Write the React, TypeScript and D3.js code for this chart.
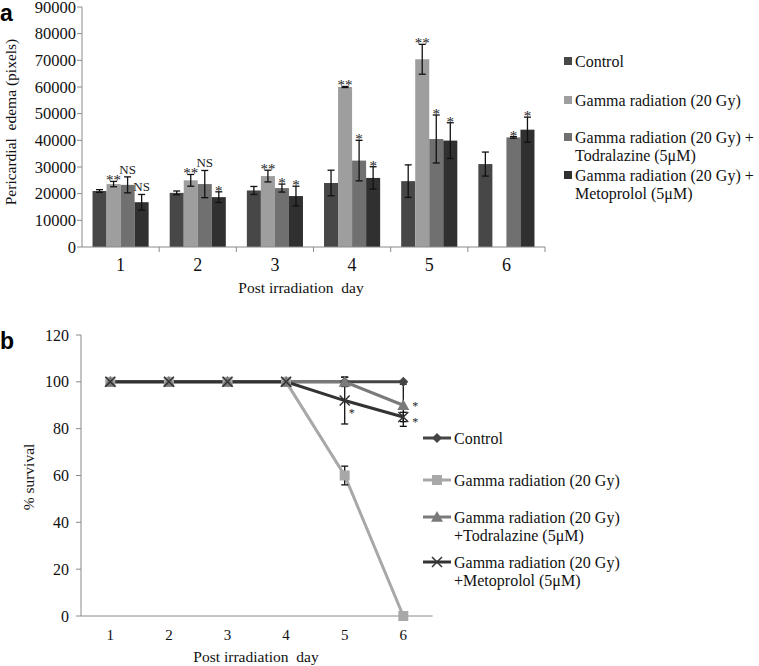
import React from "react";
import * as d3 from "d3";

const days = ["1", "2", "3", "4", "5", "6"];
const seriesA = ["Control", "Gamma", "Todralazine", "Metoprolol"];
const colorsA = ["#474747", "#9e9e9e", "#707070", "#303030"];

const controlA = [21000, 20300, 21200, 24000, 24700, 31100];
const controlAErr = [500, 700, 1500, 4800, 6100, 4500];
const gammaA = [23600, 25000, 26600, 60000, 70400, null];
const gammaAErr = [1000, 2200, 2200, 200, 5600, 0];
const todrA = [23300, 23600, 22100, 32400, 40500, 41100];
const todrAErr = [3000, 5100, 1500, 7600, 9000, 300];
const metoA = [16800, 18700, 19100, 25900, 39900, 44000];
const metoAErr = [2900, 2000, 3700, 4200, 6700, 4700];
const annotA = [
  ["", "", "", "", "", ""],
  ["**", "**", "**", "**", "**", ""],
  ["NS", "NS", "*", "*", "*", "*"],
  ["NS", "*", "*", "*", "*", "*"],
];
const yTicksA = [0, 10000, 20000, 30000, 40000, 50000, 60000, 70000, 80000, 90000];

const controlB = [100, 100, 100, 100, 100, 100];
const controlBErr = [0, 0, 0, 0, 2, 0];
const gammaB = [100, 100, 100, 100, 60, 0];
const gammaBErr = [0, 0, 0, 0, 4, 0];
const todrB = [100, 100, 100, 100, 100, 90];
const todrBErr = [0, 0, 0, 0, 0, 9];
const metoB = [100, 100, 100, 100, 92, 85];
const metoBErr = [0, 0, 0, 0, 10, 2];
const annotB = [
  ["", "", "", "", "", ""],
  ["", "", "", "", "", ""],
  ["", "", "", "", "", "*"],
  ["", "", "", "", "*", "*"],
];
const yTicksB = [0, 20, 40, 60, 80, 100, 120];

const legendA = [
  ["Control"],
  ["Gamma radiation (20 Gy)"],
  ["Gamma radiation (20 Gy) +", "Todralazine (5μM)"],
  ["Gamma radiation (20 Gy) +", "Metoprolol (5μM)"],
];
const legendB = [
  ["Control"],
  ["Gamma radiation (20 Gy)"],
  ["Gamma radiation (20 Gy)", "+Todralazine (5μM)"],
  ["Gamma radiation (20 Gy)", "+Metoprolol (5μM)"],
];
const lineColorsB = ["#454545", "#a8a8a8", "#7a7a7a", "#333333"];
const markersB = ["diamond", "square", "triangle", "x"];

const serif = "'Liberation Serif', 'Times New Roman', serif";
const axisColor = "#8a8a8a";

function Marker({ type, x, y, color }: { type: string; x: number; y: number; color: string }) {
  if (type === "diamond") {
    const s = 5;
    return <path d={`M${x},${y - s}L${x + s},${y}L${x},${y + s}L${x - s},${y}Z`} fill={color} />;
  }
  if (type === "square") {
    return <rect x={x - 5} y={y - 5} width={10} height={10} fill={color} />;
  }
  if (type === "triangle") {
    const s = 6;
    return <path d={`M${x},${y - s}L${x + s},${y + s * 0.8}L${x - s},${y + s * 0.8}Z`} fill={color} />;
  }
  const s = 5;
  return (
    <path
      d={`M${x - s},${y - s}L${x + s},${y + s}M${x - s},${y + s}L${x + s},${y - s}`}
      stroke={color}
      strokeWidth={1.5}
    />
  );
}

export default function App() {
  // ---------- Chart a ----------
  const xA = d3.scaleBand<string>().domain(days).range([82, 545]);
  const bw = xA.bandwidth();
  const barW = bw / 5.5;
  const xInner = d3
    .scaleBand<string>()
    .domain(seriesA)
    .range([0.75 * barW, bw - 0.75 * barW]);
  const yA = d3.scaleLinear().domain([0, 90000]).range([247, 7]);
  const valsA = [controlA, gammaA, todrA, metoA];
  const errsA = [controlAErr, gammaAErr, todrAErr, metoAErr];

  // ---------- Chart b ----------
  const xB = d3.scaleBand<string>().domain(days).range([81, 432.6]);
  const cx = (d: string) => (xB(d) as number) + xB.bandwidth() / 2;
  const yB = d3.scaleLinear().domain([0, 120]).range([616, 335]);
  const valsB = [controlB, gammaB, todrB, metoB];
  const errsB = [controlBErr, gammaBErr, todrBErr, metoBErr];
  const line = d3
    .line<number>()
    .x((_, i) => cx(days[i]))
    .y((v) => yB(v));

  return (
    <svg
      width={759}
      height={666}
      style={{ position: "absolute", left: 0, top: 0, background: "#fff" }}
      fontFamily={serif}
    >
      <rect width={759} height={666} fill="#fff" />
      {/* panel labels */}
      <text x={0} y={21} fontFamily="'Liberation Sans', Arial, sans-serif" fontWeight="bold" fontSize={23}>
        a
      </text>
      <text x={0} y={349} fontFamily="'Liberation Sans', Arial, sans-serif" fontWeight="bold" fontSize={23}>
        b
      </text>

      {/* ===== Chart a ===== */}
      {valsA.map((vals, si) =>
        vals.map((v, di) =>
          v == null ? null : (
            <rect
              key={`b${si}-${di}`}
              x={(xA(days[di]) as number) + (xInner(seriesA[si]) as number)}
              y={yA(v)}
              width={xInner.bandwidth()}
              height={yA(0) - yA(v)}
              fill={colorsA[si]}
            />
          )
        )
      )}
      {valsA.map((vals, si) =>
        vals.map((v, di) => {
          if (v == null) return null;
          const e = errsA[si][di];
          const x = (xA(days[di]) as number) + (xInner(seriesA[si]) as number) + xInner.bandwidth() / 2;
          return (
            <g key={`e${si}-${di}`} stroke="#111" strokeWidth={1.3}>
              <line x1={x} x2={x} y1={yA(v + e)} y2={yA(v - e)} />
              <line x1={x - 3.5} x2={x + 3.5} y1={yA(v + e)} y2={yA(v + e)} />
              <line x1={x - 3.5} x2={x + 3.5} y1={yA(v - e)} y2={yA(v - e)} />
            </g>
          );
        })
      )}
      {annotA.map((row, si) =>
        row.map((t, di) => {
          const v = valsA[si][di];
          if (!t || v == null) return null;
          const x = (xA(days[di]) as number) + (xInner(seriesA[si]) as number) + xInner.bandwidth() / 2;
          const isStar = t.includes("*");
          return (
            <text
              key={`a${si}-${di}`}
              x={x}
              y={yA(v + errsA[si][di]) - (isStar ? -4 : 3)}
              textAnchor="middle"
              fontSize={isStar ? 15 : 13}
              fill="#222"
            >
              {t}
            </text>
          );
        })
      )}
      <line x1={82} x2={82} y1={yA(90000)} y2={yA(0)} stroke={axisColor} />
      <line x1={82} x2={545} y1={yA(0)} y2={yA(0)} stroke={axisColor} />
      {yTicksA.map((t) => (
        <g key={`ya${t}`}>
          <line x1={77} x2={82} y1={yA(t)} y2={yA(t)} stroke={axisColor} />
          <text x={76} y={yA(t) + 5.5} textAnchor="end" fontSize={16.5} fill="#111">
            {t}
          </text>
        </g>
      ))}
      {days.map((d, i) => (
        <g key={`xa${d}`}>
          {i > 0 && (
            <line
              x1={xA(d) as number}
              x2={xA(d) as number}
              y1={yA(0)}
              y2={yA(0) + 5}
              stroke={axisColor}
            />
          )}
          <text
            x={(xA(d) as number) + bw / 2}
            y={265}
            dy="0.35em"
            textAnchor="middle"
            fontSize={18}
            fill="#111"
          >
            {d}
          </text>
        </g>
      ))}
      <line x1={545} x2={545} y1={yA(0)} y2={yA(0) + 5} stroke={axisColor} />
      <text x={301} y={293} textAnchor="middle" fontSize={15.5} fill="#111" style={{ whiteSpace: "pre" }}>
        Post irradiation  day
      </text>
      <text
        transform={`translate(16,${(yA(0) + yA(90000)) / 2 - 5}) rotate(-90)`}
        textAnchor="middle"
        fontSize={15.5}
        fill="#111"
        style={{ whiteSpace: "pre" }}
      >
        Pericardial  edema (pixels)
      </text>
      {legendA.map((lines, i) => {
        const ys = [61, 100, 137, 175][i];
        return (
          <g key={`la${i}`}>
            <rect x={564} y={ys - 4} width={8} height={8} fill={colorsA[i]} />
            {lines.map((l, j) => (
              <text key={j} x={575} y={ys + j * 18} dy="0.35em" fontSize={16} fill="#111">
                {l}
              </text>
            ))}
          </g>
        );
      })}

      {/* ===== Chart b ===== */}
      <line x1={81} x2={81} y1={yB(120)} y2={yB(0)} stroke={axisColor} />
      <line x1={81} x2={432.6} y1={yB(0)} y2={yB(0)} stroke={axisColor} />
      {yTicksB.map((t) => (
        <g key={`yb${t}`}>
          <line x1={76} x2={81} y1={yB(t)} y2={yB(t)} stroke={axisColor} />
          <text x={69} y={yB(t)} dy="0.35em" textAnchor="end" fontSize={16} fill="#111">
            {t}
          </text>
        </g>
      ))}
      {days.map((d) => (
        <text key={`xb${d}`} x={cx(d)} y={635} dy="0.35em" textAnchor="middle" fontSize={15} fill="#111">
          {d}
        </text>
      ))}
      <text x={256} y={662} textAnchor="middle" fontSize={15.5} fill="#111" style={{ whiteSpace: "pre" }}>
        Post irradiation  day
      </text>
      <text
        transform={`translate(34,${477}) rotate(-90)`}
        textAnchor="middle"
        fontSize={15.5}
        fill="#111"
        style={{ whiteSpace: "pre" }}
      >
        % survival
      </text>
      {valsB.map((vals, si) => (
        <path key={`lb${si}`} d={line(vals) as string} fill="none" stroke={lineColorsB[si]} strokeWidth={3} />
      ))}
      {valsB.map((vals, si) =>
        vals.map((v, di) => {
          const e = errsB[si][di];
          if (!e) return null;
          const x = cx(days[di]);
          return (
            <g key={`eb${si}-${di}`} stroke="#111" strokeWidth={1.3}>
              <line x1={x} x2={x} y1={yB(v + e)} y2={yB(v - e)} />
              <line x1={x - 3.5} x2={x + 3.5} y1={yB(v + e)} y2={yB(v + e)} />
              <line x1={x - 3.5} x2={x + 3.5} y1={yB(v - e)} y2={yB(v - e)} />
            </g>
          );
        })
      )}
      {valsB.map((vals, si) =>
        vals.map((v, di) => (
          <Marker key={`m${si}-${di}`} type={markersB[si]} x={cx(days[di])} y={yB(v)} color={lineColorsB[si]} />
        ))
      )}
      {annotB.map((row, si) =>
        row.map((t, di) => {
          if (!t) return null;
          const v = valsB[si][di];
          const x = cx(days[di]);
          const dx = di === 4 ? 4 : 9;
          const dy = di === 4 ? 16 : si === 2 ? 5 : 9;
          return (
            <text key={`ab${si}-${di}`} x={x + dx} y={yB(v) + dy} fontSize={12} fill="#222">
              {t}
            </text>
          );
        })
      )}
      {legendB.map((lines, i) => {
        const ys = [438, 480, 517, 562][i];
        return (
          <g key={`lg${i}`}>
            <line x1={423} x2={451} y1={ys} y2={ys} stroke={lineColorsB[i]} strokeWidth={3} />
            <Marker type={markersB[i]} x={437} y={ys} color={lineColorsB[i]} />
            {lines.map((l, j) => (
              <text key={j} x={454} y={ys + j * 18} dy="0.35em" fontSize={16} fill="#111">
                {l}
              </text>
            ))}
          </g>
        );
      })}
    </svg>
  );
}
